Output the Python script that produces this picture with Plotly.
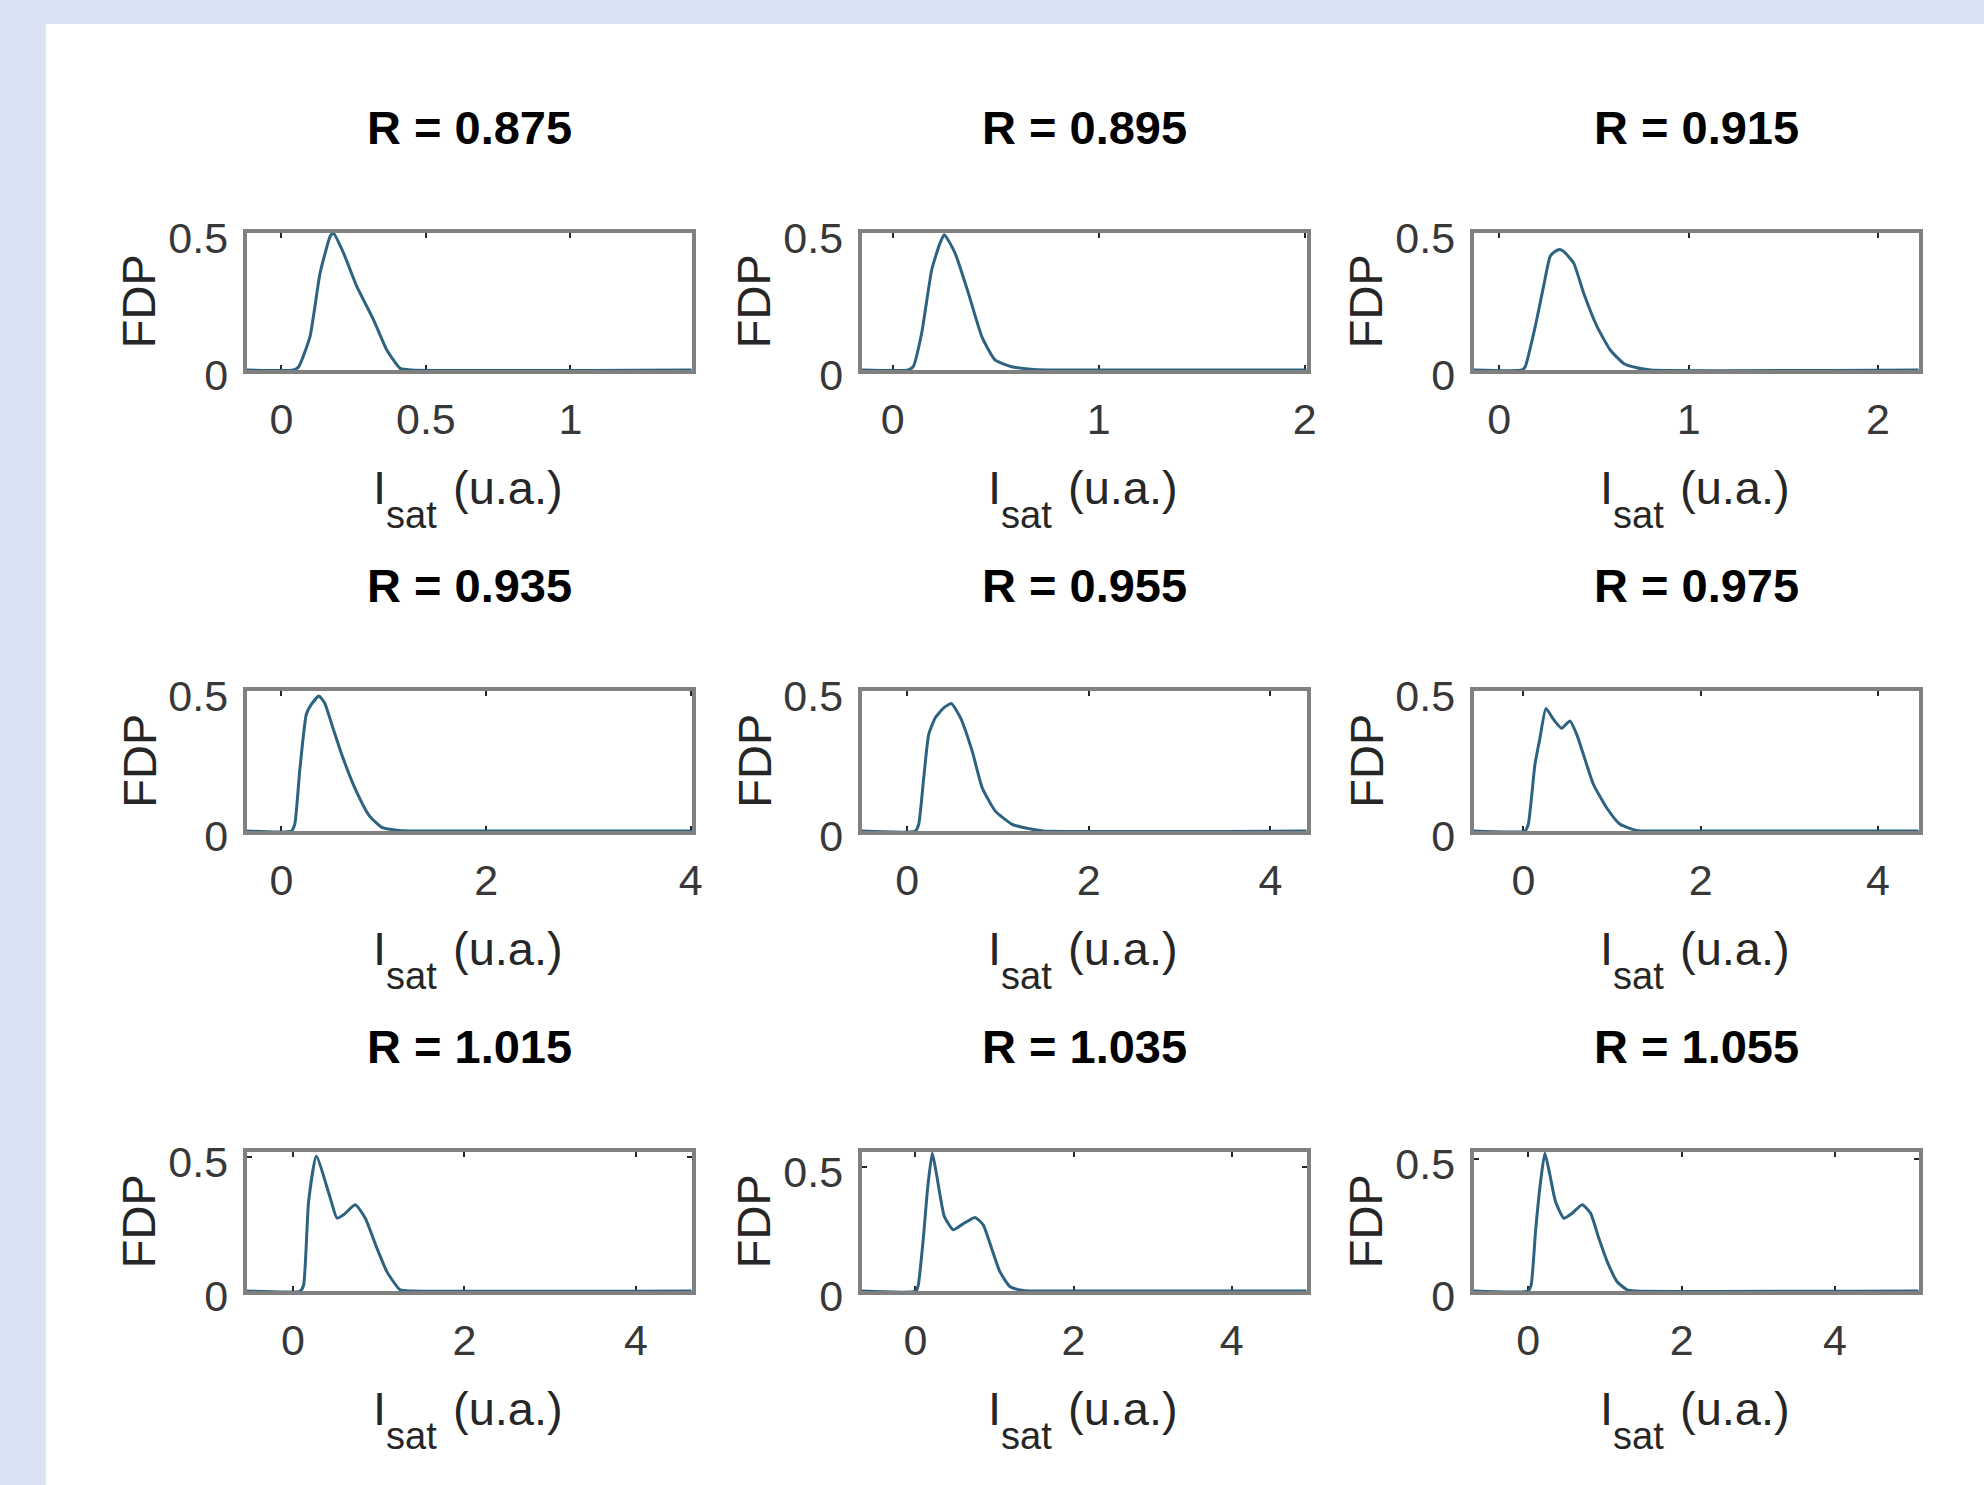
import plotly.graph_objects as go

# ---------------- data ----------------
titles = ["R = 0.875", "R = 0.895", "R = 0.915",
          "R = 0.935", "R = 0.955", "R = 0.975",
          "R = 1.015", "R = 1.035", "R = 1.055"]

x1 = [-0.12, 0.042, 0.06, 0.099, 0.134, 0.169, 0.18, 0.215, 0.261, 0.319, 0.365, 0.411, 0.45, 1.42]
y1 = [0, 0, 0.012, 0.122, 0.354, 0.488, 0.5, 0.427, 0.305, 0.183, 0.073, 0.006, 0, 0]

x2 = [-0.15, 0.076, 0.1, 0.141, 0.19, 0.23, 0.251, 0.303, 0.368, 0.433, 0.497, 0.578, 0.658, 0.75, 2.01]
y2 = [0, 0, 0.012, 0.134, 0.366, 0.463, 0.494, 0.427, 0.28, 0.122, 0.037, 0.012, 0.004, 0, 0]

x3 = [-0.135, 0.12, 0.137, 0.19, 0.234, 0.269, 0.296, 0.318, 0.34, 0.393, 0.446, 0.516, 0.586, 0.657, 0.727, 0.8, 2.215]
y3 = [0, 0, 0.012, 0.159, 0.305, 0.415, 0.433, 0.44, 0.433, 0.39, 0.28, 0.159, 0.073, 0.024, 0.008, 0, 0]

x4 = [-0.34, 0.097, 0.13, 0.178, 0.243, 0.292, 0.366, 0.421, 0.502, 0.6, 0.73, 0.859, 0.988, 1.15, 1.3, 4.01]
y4 = [0, 0, 0.024, 0.214, 0.417, 0.452, 0.482, 0.458, 0.369, 0.262, 0.143, 0.054, 0.012, 0.002, 0, 0]

x5 = [-0.5, 0.091, 0.128, 0.183, 0.238, 0.312, 0.403, 0.488, 0.587, 0.716, 0.826, 0.972, 1.156, 1.377, 1.5, 4.4]
y5 = [0, 0, 0.024, 0.19, 0.345, 0.405, 0.44, 0.455, 0.405, 0.286, 0.155, 0.071, 0.024, 0.006, 0, 0]

x6 = [-0.56, 0.018, 0.056, 0.131, 0.188, 0.255, 0.339, 0.432, 0.526, 0.602, 0.677, 0.79, 0.94, 1.09, 1.279, 1.4, 4.46]
y6 = [0, 0, 0.024, 0.238, 0.333, 0.438, 0.399, 0.367, 0.393, 0.345, 0.274, 0.167, 0.083, 0.024, 0.002, 0, 0]

x7 = [-0.54, 0.085, 0.124, 0.182, 0.272, 0.435, 0.513, 0.59, 0.726, 0.843, 0.979, 1.095, 1.25, 1.4, 4.65]
y7 = [0, 0, 0.0225, 0.335, 0.504, 0.3475, 0.2725, 0.285, 0.3225, 0.2725, 0.16, 0.0725, 0.004, 0, 0]

x8 = [-0.68, 0.006, 0.036, 0.1, 0.154, 0.213, 0.268, 0.31, 0.365, 0.478, 0.584, 0.752, 0.857, 0.963, 1.068, 1.195, 1.343, 1.45, 4.95]
y8 = [0, 0, 0.024, 0.213, 0.415, 0.557, 0.469, 0.388, 0.301, 0.247, 0.267, 0.297, 0.267, 0.173, 0.078, 0.018, 0.003, 0, 0]

x9 = [-0.71, 0.0, 0.039, 0.096, 0.152, 0.217, 0.283, 0.356, 0.465, 0.574, 0.704, 0.813, 0.921, 1.03, 1.16, 1.291, 1.4, 5.09]
y9 = [0, 0, 0.023, 0.225, 0.389, 0.521, 0.439, 0.338, 0.275, 0.294, 0.326, 0.294, 0.199, 0.111, 0.035, 0.004, 0, 0]

xs = [x1, x2, x3, x4, x5, x6, x7, x8, x9]
ys = [y1, y2, y3, y4, y5, y6, y7, y8, y9]

y_max = [0.5, 0.5, 0.5, 0.5, 0.5, 0.5, 0.52, 0.561, 0.525]
x_ticks = [[0, 0.5, 1], [0, 1, 2], [0, 1, 2],
           [0, 2, 4], [0, 2, 4], [0, 2, 4],
           [0, 2, 4], [0, 2, 4], [0, 2, 4]]
y_ticks = [0, 0.5]

y_label = "FDP"
x_label_main = "I"
x_label_sub = "sat"
x_label_unit = "(u.a.)"

# ---------------- layout ----------------
W, H = 1984, 1485
col_px = [(246.7, 691.7), (861.7, 1306.7), (1473.7, 1918.7)]
row_px = [(233, 370), (691, 831), (1152, 1291)]

FONT = "Liberation Sans, Arial, Helvetica, sans-serif"
LINE_COLOR = "#2d6380"
BOX_COLOR = "#808080"
TICK_COLOR = "#262626"


def px(x):
    return x / W


def py(y):
    return 1 - y / H


fig = go.Figure()
annotations = []
layout_axes = {}

for i in range(9):
    r, c = divmod(i, 3)
    x0, x1p = col_px[c]
    top, bot = row_px[r]
    n = "" if i == 0 else str(i + 1)
    fig.add_trace(go.Scatter(
        x=xs[i], y=ys[i], mode="lines",
        line=dict(color=LINE_COLOR, width=3, shape="spline", smoothing=0.5),
        xaxis="x" + n, yaxis="y" + n, showlegend=False, hoverinfo="skip"))

    common = dict(
        ticks="inside", ticklen=5, tickwidth=2, tickcolor=TICK_COLOR,
        showline=True, linecolor=BOX_COLOR, linewidth=4, mirror="ticks",
        showgrid=False, zeroline=False, layer="below traces", automargin=False,
        tickfont=dict(family=FONT, size=43, color="#383838"),
    )
    layout_axes["xaxis" + n] = dict(
        domain=[px(x0), px(x1p)], anchor="y" + n,
        range=[min(xs[i]), max(xs[i])], tickmode="array", tickvals=x_ticks[i],
        ticklabelstandoff=8, **common)
    layout_axes["yaxis" + n] = dict(
        domain=[py(bot), py(top)], anchor="x" + n,
        range=[0, y_max[i]], tickmode="array", tickvals=y_ticks,
        ticklabelstandoff=6, ticklabelshift=5, **common)

    cx = (x0 + x1p) / 2
    cy = (top + bot) / 2
    # subplot title
    annotations.append(dict(
        text="<b>%s</b>" % titles[i], x=px(cx), y=py(top - 106),
        xref="paper", yref="paper", xanchor="center", yanchor="middle",
        showarrow=False, font=dict(family=FONT, size=47, color="#000000")))
    # y label
    annotations.append(dict(
        text=y_label, x=px(x0 - 108), y=py(cy), textangle=-90,
        xref="paper", yref="paper", xanchor="center", yanchor="middle",
        showarrow=False, font=dict(family=FONT, size=47, color="#262626")))
    # x label: I_sat (u.a.)
    annotations.append(dict(
        text=x_label_main, x=px(cx - 98), y=py(bot + 117),
        xref="paper", yref="paper", xanchor="left", yanchor="middle",
        showarrow=False, font=dict(family=FONT, size=47, color="#262626")))
    annotations.append(dict(
        text=x_label_sub, x=px(cx - 85), y=py(bot + 145),
        xref="paper", yref="paper", xanchor="left", yanchor="middle",
        showarrow=False, font=dict(family=FONT, size=38, color="#262626")))
    annotations.append(dict(
        text=x_label_unit, x=px(cx - 18), y=py(bot + 117),
        xref="paper", yref="paper", xanchor="left", yanchor="middle",
        showarrow=False, font=dict(family=FONT, size=47, color="#262626")))

fig.update_layout(
    width=W, height=H, autosize=False,
    margin=dict(l=0, r=0, t=0, b=0, pad=0, autoexpand=False),
    paper_bgcolor="#dae3f3",
    plot_bgcolor="#ffffff",
    annotations=annotations,
    shapes=[dict(type="rect", xref="paper", yref="paper",
                 x0=px(46), x1=1.0, y0=0.0, y1=py(24),
                 fillcolor="#ffffff", line=dict(width=0), layer="below")],
    **layout_axes,
)

fig.write_html("out.html")
